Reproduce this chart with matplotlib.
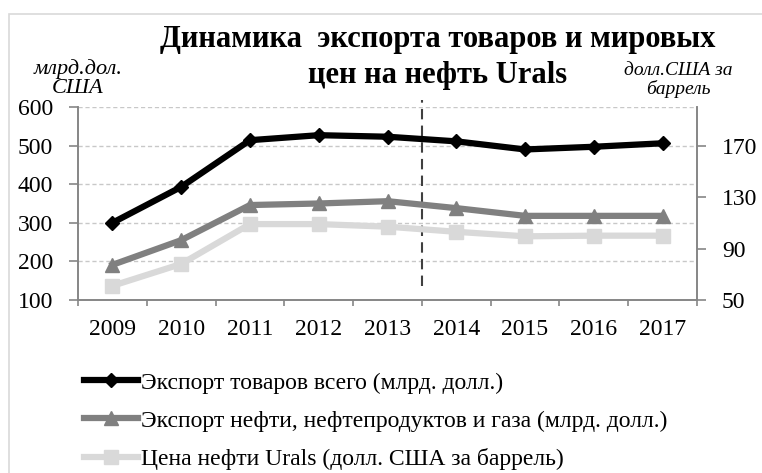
import matplotlib.pyplot as plt
from matplotlib.lines import Line2D
from matplotlib.patches import Rectangle

plt.rcParams["font.family"] = ["Liberation Serif", "DejaVu Serif"]

years = ["2009", "2010", "2011", "2012", "2013", "2014", "2015", "2016", "2017"]
export_total = [300, 393, 514, 527, 523, 511, 490, 497, 506]
export_oil_gas = [191, 255, 346, 350, 356, 338, 318, 318, 318]
urals_price = [61, 78, 109, 109, 107, 103, 99.5, 100, 100]

labels = [
    "Экспорт товаров всего (млрд. долл.)",
    "Экспорт нефти, нефтепродуктов и газа (млрд. долл.)",
    "Цена нефти Urals (долл. США за баррель)",
]

W, H = 762, 473
fig = plt.figure(figsize=(W / 100, H / 100), dpi=100)

# chart frame
fig.patches.append(Rectangle((9 / W, -0.1), 1.2, (H - 14) / H + 0.1,
                             transform=fig.transFigure, fill=False,
                             edgecolor="#d9d9d9", linewidth=1.2))

ax = fig.add_axes([78 / W, (H - 300) / H, (697 - 78) / W, 193 / H])
ax2 = ax.twinx()

x = list(range(1, len(years) + 1))
axis_col = "#868686"

ax.set_xlim(0.5, len(years) + 0.5)
ax.set_ylim(100, 600)
ax2.set_ylim(50, 200)

ax.plot(x, export_oil_gas, color="#808080", lw=4.5, marker="^", ms=10,
        zorder=3)
ax.plot(x, export_total, color="black", lw=4.5, marker="D", ms=7,
        zorder=4)
ax2.plot(x, urals_price, color="#d9d9d9", lw=4.5, marker="s", ms=10,
         zorder=3)

# forecast divider
ax.plot([5.5, 5.5], [135, 618], color="#404040", lw=1.5,
        ls=(0, (5, 3)), clip_on=False, zorder=2)

ax.set_yticks([100, 200, 300, 400, 500, 600])
ax2.set_yticks([50, 90, 130, 170])
ax.yaxis.grid(True, color="#c8c8c8", ls=(0, (3, 2)), lw=1)
ax.set_axisbelow(True)

ax.set_xticks([i + 0.5 for i in range(0, len(years) + 1)])
ax.set_xticklabels([])
ax.set_xticks(x, minor=True)
ax.set_xticklabels(years, minor=True)
ax.tick_params(axis="x", which="minor", length=0, pad=14, labelsize=17)
ax.tick_params(axis="x", which="major", length=4, color=axis_col, width=1.2)
ax.tick_params(axis="y", length=6.5, color=axis_col, width=1.2, labelsize=17,
               pad=11.5)
ax2.tick_params(axis="y", length=6.5, color=axis_col, width=1.2, labelsize=17,
                pad=11.5)

for a in (ax, ax2):
    a.spines["top"].set_visible(False)
    for s in ("left", "right", "bottom"):
        a.spines[s].set_color(axis_col)
        a.spines[s].set_linewidth(1.2)

fig.text(438 / W, 1 - 40 / H, "Динамика  экспорта товаров и мировых",
         ha="center", va="center", fontsize=22, fontweight="bold")
fig.text(438 / W, 1 - 75 / H, "цен на нефть Urals",
         ha="center", va="center", fontsize=22, fontweight="bold")
fig.text(78 / W, 1 - 79 / H, "млрд.дол.\nСША", ha="center", va="center",
         fontsize=16, fontstyle="italic", linespacing=1.0)
fig.text(678 / W, 1 - 80 / H, "долл.США за\nбаррель", ha="center",
         va="center", fontsize=14, fontstyle="italic", linespacing=1.05)

handles = [
    Line2D([], [], color="black", lw=4.5, marker="D", ms=7),
    Line2D([], [], color="#808080", lw=4.5, marker="^", ms=10),
    Line2D([], [], color="#d9d9d9", lw=4.5, marker="s", ms=10),
]
fig.legend(handles, labels, loc="upper left",
           bbox_to_anchor=(84 / W, 1 - 372 / H),
           frameon=False, fontsize=17, handlelength=2.3, handletextpad=0.1,
           labelspacing=0.7, borderaxespad=0, borderpad=0)

fig.savefig("out.png", dpi=100)
